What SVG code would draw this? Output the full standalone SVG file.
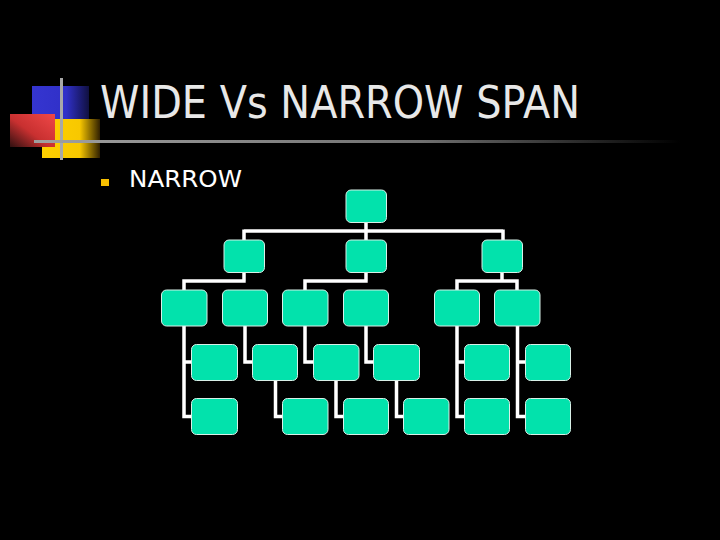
<svg xmlns="http://www.w3.org/2000/svg" width="720" height="540" viewBox="0 0 720 540">
<defs>
<linearGradient id="gBlue" x1="0" y1="0" x2="1" y2="0"><stop offset="0" stop-color="#3535D0"/><stop offset="0.6" stop-color="#3030C8"/><stop offset="1" stop-color="#101040"/></linearGradient>
<linearGradient id="gYellow" x1="0" y1="0" x2="1" y2="0"><stop offset="0" stop-color="#FFD000"/><stop offset="0.65" stop-color="#F8C800"/><stop offset="1" stop-color="#302000"/></linearGradient>
<linearGradient id="gRed" x1="1" y1="0" x2="0" y2="1"><stop offset="0" stop-color="#F04848"/><stop offset="0.55" stop-color="#C83030"/><stop offset="1" stop-color="#301010"/></linearGradient>
<linearGradient id="gLine" x1="0" y1="0" x2="1" y2="0"><stop offset="0" stop-color="#A0A0A0"/><stop offset="0.6" stop-color="#707070"/><stop offset="1" stop-color="#000000"/></linearGradient>
<style>
.box{fill:#02E2AC;stroke:#D8F0E8;stroke-width:1;}
.con{fill:none;stroke:#FFFFFF;stroke-width:3.5;}
.title{font-family:"DejaVu Sans",Tahoma,sans-serif;fill:#E8E8E8;}
</style>
</defs>
<rect width="720" height="540" fill="#000000"/>
<g id="decor">
<rect x="32" y="86" width="57" height="34" fill="url(#gBlue)"/>
<rect x="42" y="119" width="58" height="39" fill="url(#gYellow)"/>
<rect x="10" y="114" width="45" height="33" fill="url(#gRed)"/>
<rect x="60" y="78" width="3" height="82" fill="#A8A8A8"/>
<rect x="34" y="140" width="646" height="3" fill="url(#gLine)"/>
</g>
<text class="title" x="100" y="118" font-size="44" textLength="480" lengthAdjust="spacingAndGlyphs">WIDE Vs NARROW SPAN</text>
<rect x="101" y="179" width="8" height="7" fill="#F8C000"/>
<text class="title" x="129" y="187" font-size="23" fill="#FFFFFF" textLength="113" lengthAdjust="spacingAndGlyphs" style="fill:#FFFFFF">NARROW</text>
<g id="connectors">
<path class="con" d="M366 222V240M244 231H503M244 229.5V240M503 229.5V240"/>
<path class="con" d="M244 272V281M184 281H245.7M184 279.3V290"/>
<path class="con" d="M366 272V281M305 281H367.7M305 279.3V290"/>
<path class="con" d="M502 272V281M457 281H518.7M457 279.3V290M517 279.3V290"/>
<path class="con" d="M184 326V416.5H192M184 362H192"/>
<path class="con" d="M245 326V362H253"/>
<path class="con" d="M305 326V362H314"/>
<path class="con" d="M366 326V362H374"/>
<path class="con" d="M275.5 380V416.5H283"/>
<path class="con" d="M336 380V416.5H344"/>
<path class="con" d="M396.5 380V416.5H404"/>
<path class="con" d="M457 326V416.5H465M457 362H465"/>
<path class="con" d="M517.5 326V416.5H526M517.5 362H526"/>
</g>
<g id="n1"><rect class="box" x="346" y="190" width="40.5" height="32.5" rx="5"/></g>
<g id="n2"><rect class="box" x="224" y="240" width="40.5" height="32.5" rx="5"/></g>
<g id="n3"><rect class="box" x="346" y="240" width="40.5" height="32.5" rx="5"/></g>
<g id="n4"><rect class="box" x="482" y="240" width="40.5" height="32.5" rx="5"/></g>
<g id="n5"><rect class="box" x="161.5" y="290" width="45.5" height="36" rx="5"/></g>
<g id="n6"><rect class="box" x="222.5" y="290" width="45" height="36" rx="5"/></g>
<g id="n7"><rect class="box" x="282.5" y="290" width="45.5" height="36" rx="5"/></g>
<g id="n8"><rect class="box" x="343.5" y="290" width="45" height="36" rx="5"/></g>
<g id="n9"><rect class="box" x="434.5" y="290" width="45" height="36" rx="5"/></g>
<g id="n10"><rect class="box" x="494.5" y="290" width="45.5" height="36" rx="5"/></g>
<g id="n11"><rect class="box" x="191.5" y="344.5" width="46" height="36" rx="5"/></g>
<g id="n12"><rect class="box" x="252.5" y="344.5" width="45" height="36" rx="5"/></g>
<g id="n13"><rect class="box" x="313.5" y="344.5" width="45.5" height="36" rx="5"/></g>
<g id="n14"><rect class="box" x="373.5" y="344.5" width="46" height="36" rx="5"/></g>
<g id="n15"><rect class="box" x="464.5" y="344.5" width="45" height="36" rx="5"/></g>
<g id="n16"><rect class="box" x="525.5" y="344.5" width="45" height="36" rx="5"/></g>
<g id="n17"><rect class="box" x="191.5" y="398.5" width="46" height="36" rx="5"/></g>
<g id="n18"><rect class="box" x="282.5" y="398.5" width="45.5" height="36" rx="5"/></g>
<g id="n19"><rect class="box" x="343.5" y="398.5" width="45" height="36" rx="5"/></g>
<g id="n20"><rect class="box" x="403.5" y="398.5" width="45.5" height="36" rx="5"/></g>
<g id="n21"><rect class="box" x="464.5" y="398.5" width="45" height="36" rx="5"/></g>
<g id="n22"><rect class="box" x="525.5" y="398.5" width="45" height="36" rx="5"/></g>
</svg>
